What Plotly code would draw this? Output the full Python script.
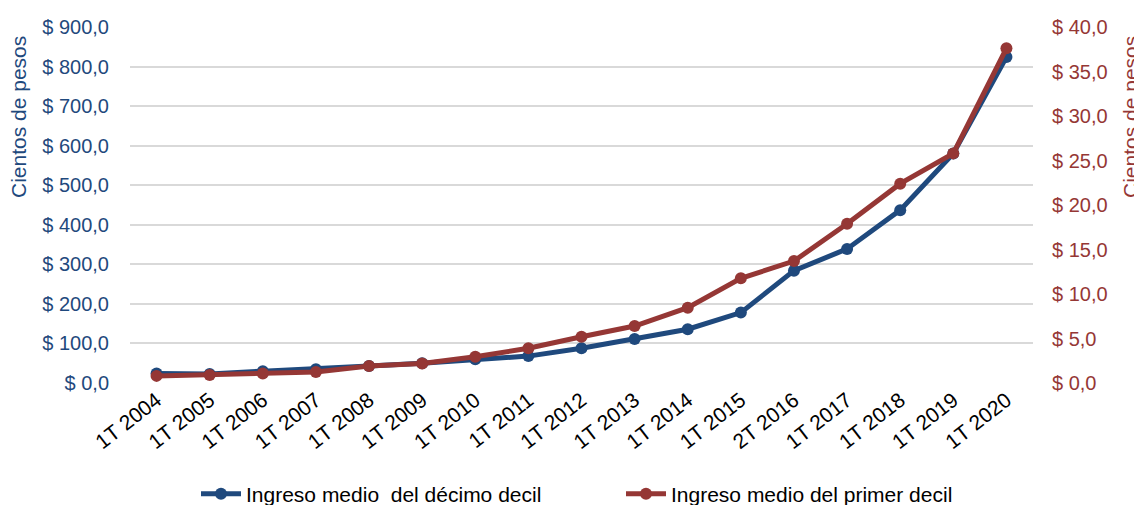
import plotly.graph_objects as go

categories = ["1T 2004", "1T 2005", "1T 2006", "1T 2007", "1T 2008", "1T 2009", "1T 2010",
              "1T 2011", "1T 2012", "1T 2013", "1T 2014", "1T 2015", "2T 2016", "1T 2017",
              "1T 2018", "1T 2019", "1T 2020"]
decimo = [24, 23, 30, 35, 43, 50, 60, 68, 88, 111, 136, 178, 284, 339, 437, 580, 824]
primero = [0.8, 0.9, 1.07, 1.24, 1.9, 2.2, 2.95, 3.9, 5.2, 6.4, 8.46, 11.76, 13.7, 17.9, 22.4, 25.8, 37.6]

left_ticks = [0, 100, 200, 300, 400, 500, 600, 700, 800, 900]
right_ticks = [0, 5, 10, 15, 20, 25, 30, 35, 40]

BLUE = "#1F497D"
RED = "#953735"
FONT = "Liberation Sans, Arial, sans-serif"

# page body has an 8px margin; the figure is sized to fit the window after it
OFF = 8
W, H = 1142 - OFF, 505 - OFF
L, R, T, B = 130 - OFF, 109, 27 - OFF, 122
PW, PH = W - L - R, H - T - B


def fmt(v):
    return "$ " + f"{v:.1f}".replace(".", ",")


def px_x(x):
    return (x - OFF - L) / PW


def px_y(y):
    return (H - B - (y - OFF)) / PH


fig = go.Figure()
fig.add_trace(go.Scatter(
    x=categories, y=decimo, name="Ingreso medio  del décimo decil",
    mode="lines+markers", line=dict(color=BLUE, width=5),
    marker=dict(color=BLUE, size=12), yaxis="y"))
fig.add_trace(go.Scatter(
    x=categories, y=primero, name="Ingreso medio del primer decil",
    mode="lines+markers", line=dict(color=RED, width=5),
    marker=dict(color=RED, size=12), yaxis="y2"))

fig.update_layout(
    width=W, height=H,
    margin=dict(l=L, r=R, t=T, b=B, autoexpand=False),
    paper_bgcolor="white", plot_bgcolor="white",
    font=dict(family=FONT, size=20, color="black"),
    showlegend=True,
    legend=dict(orientation="h", x=px_x(196), xanchor="left", y=px_y(494), yanchor="middle",
                font=dict(size=21, color="black"), traceorder="normal",
                entrywidth=370, itemwidth=40),
    xaxis=dict(type="category", range=[-0.5, len(categories) - 0.5],
               tickangle=-38, tickfont=dict(size=21, color="black"),
               showgrid=False, showline=False, ticks="", zeroline=False, automargin=False),
    yaxis=dict(range=[0, 900], tickvals=left_ticks, ticktext=[fmt(v) for v in left_ticks],
               tickfont=dict(size=20, color=BLUE), gridcolor="#D9D9D9", gridwidth=2,
               zeroline=False, showline=False, ticks="outside", ticklen=16, tickcolor="white",
               automargin=False),
    yaxis2=dict(range=[0, 40], tickvals=right_ticks, ticktext=[fmt(v) for v in right_ticks],
                overlaying="y", side="right", showgrid=False, zeroline=False,
                tickfont=dict(size=20, color=RED), ticks="outside", ticklen=14, tickcolor="white",
                automargin=False),
    annotations=[
        dict(text="Cientos de pesos", x=px_x(19), y=px_y(117), xref="paper", yref="paper",
             xanchor="center", yanchor="middle", textangle=-90, showarrow=False,
             font=dict(size=21, color=BLUE)),
        dict(text="Cientos de pesos", x=px_x(1131), y=px_y(117), xref="paper", yref="paper",
             xanchor="center", yanchor="middle", textangle=-90, showarrow=False,
             font=dict(size=21, color=RED)),
    ],
)

fig.write_html("out.html")
